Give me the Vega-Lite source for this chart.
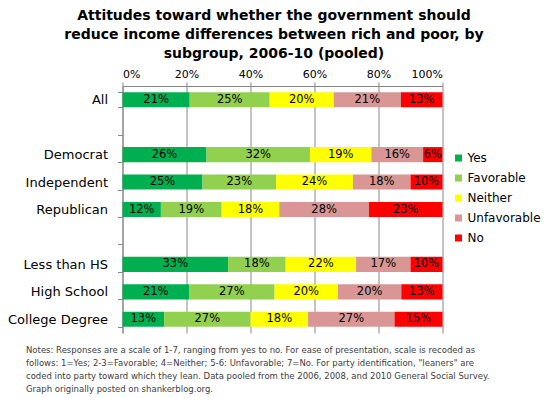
{
  "$schema": "https://vega.github.io/schema/vega-lite/v6.json",
  "width": 320,
  "height": 247,
  "autosize": {"type": "none"},
  "padding": {"left": 122.5, "top": 86, "right": 105.5, "bottom": 65},
  "background": "white",
  "title": {
    "text": ["Attitudes toward whether the government should", "reduce income differences between rich and poor, by", "subgroup, 2006-10 (pooled)"],
    "font": "DejaVu Sans",
    "fontSize": 14,
    "fontWeight": "bold",
    "lineHeight": 19,
    "anchor": "middle",
    "dx": -8.5,
    "offset": 7,
    "color": "#000000"
  },
  "config": {"view": {"stroke": null}, "font": "DejaVu Sans"},
  "data": {
    "values": [
      {"group": "All", "response": "Yes", "code": 1, "pct": 0.21},
      {"group": "All", "response": "Favorable", "code": 2, "pct": 0.25},
      {"group": "All", "response": "Neither", "code": 3, "pct": 0.20},
      {"group": "All", "response": "Unfavorable", "code": 4, "pct": 0.21},
      {"group": "All", "response": "No", "code": 5, "pct": 0.13},
      {"group": "Democrat", "response": "Yes", "code": 1, "pct": 0.26},
      {"group": "Democrat", "response": "Favorable", "code": 2, "pct": 0.32},
      {"group": "Democrat", "response": "Neither", "code": 3, "pct": 0.19},
      {"group": "Democrat", "response": "Unfavorable", "code": 4, "pct": 0.16},
      {"group": "Democrat", "response": "No", "code": 5, "pct": 0.06},
      {"group": "Independent", "response": "Yes", "code": 1, "pct": 0.25},
      {"group": "Independent", "response": "Favorable", "code": 2, "pct": 0.23},
      {"group": "Independent", "response": "Neither", "code": 3, "pct": 0.24},
      {"group": "Independent", "response": "Unfavorable", "code": 4, "pct": 0.18},
      {"group": "Independent", "response": "No", "code": 5, "pct": 0.10},
      {"group": "Republican", "response": "Yes", "code": 1, "pct": 0.12},
      {"group": "Republican", "response": "Favorable", "code": 2, "pct": 0.19},
      {"group": "Republican", "response": "Neither", "code": 3, "pct": 0.18},
      {"group": "Republican", "response": "Unfavorable", "code": 4, "pct": 0.28},
      {"group": "Republican", "response": "No", "code": 5, "pct": 0.23},
      {"group": "Less than HS", "response": "Yes", "code": 1, "pct": 0.33},
      {"group": "Less than HS", "response": "Favorable", "code": 2, "pct": 0.18},
      {"group": "Less than HS", "response": "Neither", "code": 3, "pct": 0.22},
      {"group": "Less than HS", "response": "Unfavorable", "code": 4, "pct": 0.17},
      {"group": "Less than HS", "response": "No", "code": 5, "pct": 0.10},
      {"group": "High School", "response": "Yes", "code": 1, "pct": 0.21},
      {"group": "High School", "response": "Favorable", "code": 2, "pct": 0.27},
      {"group": "High School", "response": "Neither", "code": 3, "pct": 0.20},
      {"group": "High School", "response": "Unfavorable", "code": 4, "pct": 0.20},
      {"group": "High School", "response": "No", "code": 5, "pct": 0.13},
      {"group": "College Degree", "response": "Yes", "code": 1, "pct": 0.13},
      {"group": "College Degree", "response": "Favorable", "code": 2, "pct": 0.27},
      {"group": "College Degree", "response": "Neither", "code": 3, "pct": 0.18},
      {"group": "College Degree", "response": "Unfavorable", "code": 4, "pct": 0.27},
      {"group": "College Degree", "response": "No", "code": 5, "pct": 0.15}
    ]
  },
  "encoding": {
    "y": {
      "field": "group",
      "type": "nominal",
      "scale": {
        "domain": ["All", " ", "Democrat", "Independent", "Republican", "  ", "Less than HS", "High School", "College Degree"],
        "paddingInner": 0.45,
        "paddingOuter": 0.225
      },
      "axis": {
        "title": null,
        "grid": false,
        "domainColor": "#868686",
        "tickColor": "#868686",
        "tickSize": 5,
        "tickBand": "extent",
        "labelFont": "DejaVu Sans",
        "labelFontSize": 13,
        "labelColor": "#000000",
        "labelPadding": 10
      }
    }
  },
  "layer": [
    {
      "mark": {"type": "bar"},
      "encoding": {
        "x": {
          "field": "pct",
          "type": "quantitative",
          "stack": "normalize",
          "scale": {"domain": [0, 1], "nice": false},
          "axis": {
            "orient": "top",
            "title": null,
            "format": ".0%",
            "values": [0, 0.2, 0.4, 0.6, 0.8, 1],
            "grid": true,
            "gridColor": "#868686",
            "domainColor": "#868686",
            "tickColor": "#868686",
            "tickSize": 4,
            "labelFont": "DejaVu Sans",
            "labelFontSize": 11,
            "labelColor": "#000000",
            "labelPadding": 3
          }
        },
        "color": {
          "field": "response",
          "type": "nominal",
          "sort": ["Yes", "Favorable", "Neither", "Unfavorable", "No"],
          "scale": {
            "domain": ["Yes", "Favorable", "Neither", "Unfavorable", "No"],
            "range": ["#00B050", "#92D050", "#FFFF00", "#D99694", "#FF0000"]
          },
          "legend": {
            "title": null,
            "orient": "none",
            "legendX": 330,
            "legendY": 66,
            "padding": 0,
            "symbolType": "square",
            "symbolSize": 49,
            "symbolStrokeWidth": 0,
            "symbolOpacity": 1,
            "labelFont": "DejaVu Sans",
            "labelFontSize": 12,
            "labelColor": "#000000",
            "labelOffset": 3,
            "rowPadding": 8
          }
        },
        "order": {"field": "code", "type": "quantitative"}
      }
    },
    {
      "mark": {"type": "text", "font": "DejaVu Sans", "fontSize": 11.5, "color": "#000000"},
      "encoding": {
        "x": {
          "field": "pct",
          "type": "quantitative",
          "stack": "normalize",
          "bandPosition": 0.5,
          "axis": {
            "orient": "bottom",
            "domain": false,
            "ticks": false,
            "labels": false,
            "grid": false,
            "title": ["Notes: Responses are a scale of 1-7, ranging from yes to no. For ease of presentation, scale is recoded as", "follows: 1=Yes; 2-3=Favorable; 4=Neither; 5-6: Unfavorable; 7=No. For party identification, \"leaners\" are", "coded into party toward which they lean. Data pooled from the 2006, 2008, and 2010 General Social Survey.", "Graph originally posted on shankerblog.org."],
            "titleFont": "DejaVu Sans",
            "titleFontSize": 8.5,
            "titleFontWeight": "normal",
            "titleColor": "#404040",
            "titleLineHeight": 13,
            "titleAnchor": "start",
            "titleAlign": "left",
            "titleBaseline": "top",
            "titleX": -97,
            "titleY": 12
          }
        },
        "text": {"field": "pct", "type": "quantitative", "format": ".0%"},
        "detail": {"field": "response"},
        "order": {"field": "code", "type": "quantitative"}
      }
    }
  ],
  "resolve": {"axis": {"x": "independent"}}
}
